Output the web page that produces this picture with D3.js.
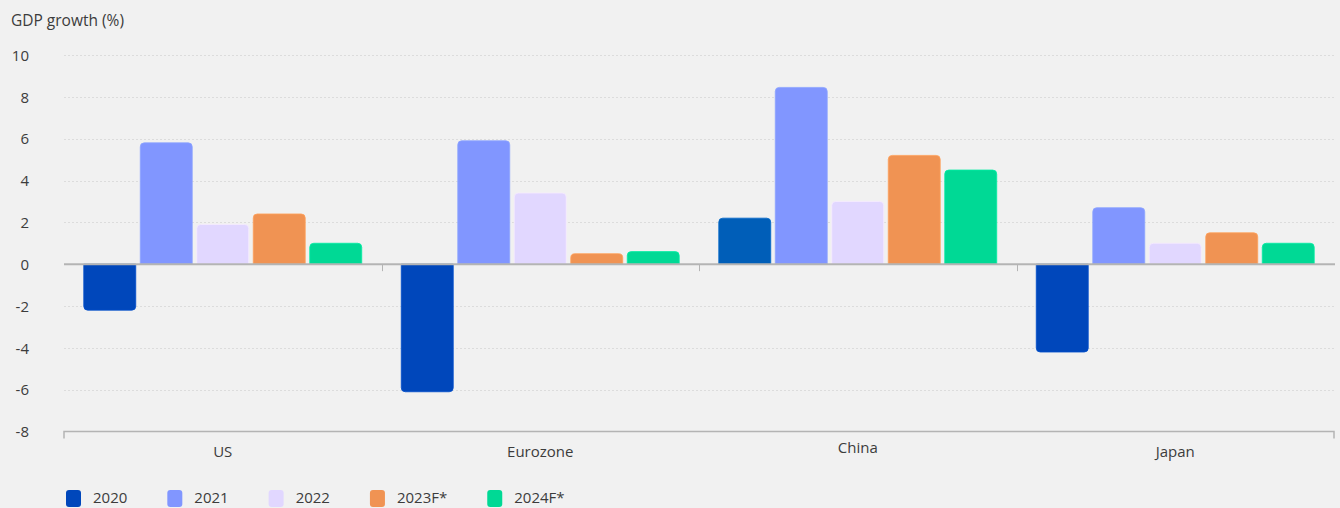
<!DOCTYPE html>
<html>
<head>
<meta charset="utf-8">
<script src="https://cdn.jsdelivr.net/npm/d3@7"></script>
<style>
  html, body { margin: 0; padding: 0; background: #f1f1f1; }
  svg { display: block; }
  text { font-family: "Open Sans", Lato, sans-serif; fill: #3c3c3c; }
</style>
</head>
<body>
<svg id="chart" width="1340" height="508"></svg>
<script>
// ---- data ----
const categories = ["US", "Eurozone", "China", "Japan"];
const seriesNames = ["2020", "2021", "2022", "2023F*", "2024F*"];
const v2020 = [-2.2, -6.1, 2.2, -4.2];
const v2021 = [5.8, 5.9, 8.45, 2.7];
const v2022 = [1.9, 3.4, 3.0, 1.0];
const v2023 = [2.4, 0.5, 5.2, 1.5];
const v2024 = [1.0, 0.6, 4.5, 1.0];
const yTicks = [-8, -6, -4, -2, 0, 2, 4, 6, 8, 10];
const yTitle = "GDP growth (%)";

const seriesValues = [v2020, v2021, v2022, v2023, v2024];
const colors = ["#0047bb", "#8196ff", "#e1d7ff", "#f09353", "#00d995"];
const highlight = { series: 0, category: 2, color: "#005eb8" };

// ---- layout ----
const FONT = "'Open Sans', Lato, sans-serif";
const FS = "15px";
const svg = d3.select("#chart");
const plotLeft = 64, plotRight = 1334, plotTop = 55, plotBottom = 431.5;

const y = d3.scaleLinear().domain([-8, 10]).range([plotBottom, plotTop]);
const x0 = d3.scaleBand().domain(categories).range([plotLeft, plotRight]).padding(0);
const x1 = d3.scaleBand().domain(seriesNames).range([0, x0.bandwidth()])
  .paddingInner(0.08).paddingOuter(0.35);

// y title
svg.append("text").attr("x", 11).attr("y", 26).style("font-size", "15.5px").text(yTitle);

// gridlines
const grid = svg.append("g");
yTicks.filter(t => t !== 0 && t !== -8).forEach(t => {
  grid.append("line")
    .attr("x1", plotLeft).attr("x2", plotRight)
    .attr("y1", Math.round(y(t)) + 0.5).attr("y2", Math.round(y(t)) + 0.5)
    .attr("stroke", "#dcdcdc").attr("stroke-width", 1)
    .attr("stroke-dasharray", "2,2");
});

// y axis labels
const yAxis = d3.axisLeft(y).tickValues(yTicks).tickSize(0).tickPadding(0)
  .tickFormat(d => String(d));
const ya = svg.append("g").attr("transform", `translate(29,0)`).call(yAxis);
ya.select(".domain").remove();
ya.selectAll("text").style("font-size", FS).style("font-family", FONT)
  .attr("fill", "#3c3c3c").attr("dy", "0.35em");

// bars
function barPath(x, w, v) {
  const y0 = y(0), y1 = y(v);
  const r = Math.min(4, Math.abs(y1 - y0));
  if (v >= 0) {
    return `M${x},${y0} V${y1 + r} Q${x},${y1} ${x + r},${y1} H${x + w - r} Q${x + w},${y1} ${x + w},${y1 + r} V${y0} Z`;
  } else {
    return `M${x},${y0} V${y1 - r} Q${x},${y1} ${x + r},${y1} H${x + w - r} Q${x + w},${y1} ${x + w},${y1 - r} V${y0} Z`;
  }
}
const bars = svg.append("g");
categories.forEach((c, ci) => {
  seriesNames.forEach((s, si) => {
    const v = seriesValues[si][ci];
    const col = (si === highlight.series && ci === highlight.category) ? highlight.color : colors[si];
    bars.append("path")
      .attr("d", barPath(x0(c) + x1(s), x1.bandwidth(), v))
      .attr("fill", col)
      .attr("stroke", d3.color(col).brighter(0.25))
      .attr("stroke-width", 0.8);
  });
});

// zero line with category boundary ticks
const axisG = svg.append("g").attr("stroke", "#b4b4b4");
axisG.append("line").attr("x1", plotLeft).attr("x2", plotRight + 1)
  .attr("y1", y(0)).attr("y2", y(0)).attr("stroke-width", 2);
categories.slice(1).forEach(c => {
  const xx = Math.round(x0(c)) + 0.5;
  axisG.append("line").attr("x1", xx).attr("x2", xx)
    .attr("y1", y(0)).attr("y2", y(0) + 7).attr("stroke-width", 1);
});

// bottom axis line
const xAxis = d3.axisBottom(x0).tickSize(0).tickPadding(0);
const xa = svg.append("g").attr("transform", `translate(0,${plotBottom})`).call(xAxis);
xa.select(".domain").attr("stroke", "#b4b4b4").attr("stroke-width", 1.5)
  .attr("d", `M${plotLeft},7V0H${plotRight}V7`);
xa.selectAll("text")
  .style("font-size", FS).style("font-family", FONT)
  .attr("fill", "#3c3c3c")
  .attr("y", d => d === "China" ? 11 : 15)
  .attr("dy", "0.71em");

// legend
const legend = svg.append("g");
let lx = 66;
seriesNames.forEach((s, i) => {
  legend.append("rect").attr("x", lx).attr("y", 490).attr("width", 15).attr("height", 17)
    .attr("rx", 3).attr("fill", colors[i]);
  const t = legend.append("text").attr("x", lx + 27).attr("y", 503)
    .style("font-size", FS).text(s);
  lx += 27 + t.node().getComputedTextLength() + 40;
});
</script>
</body>
</html>
